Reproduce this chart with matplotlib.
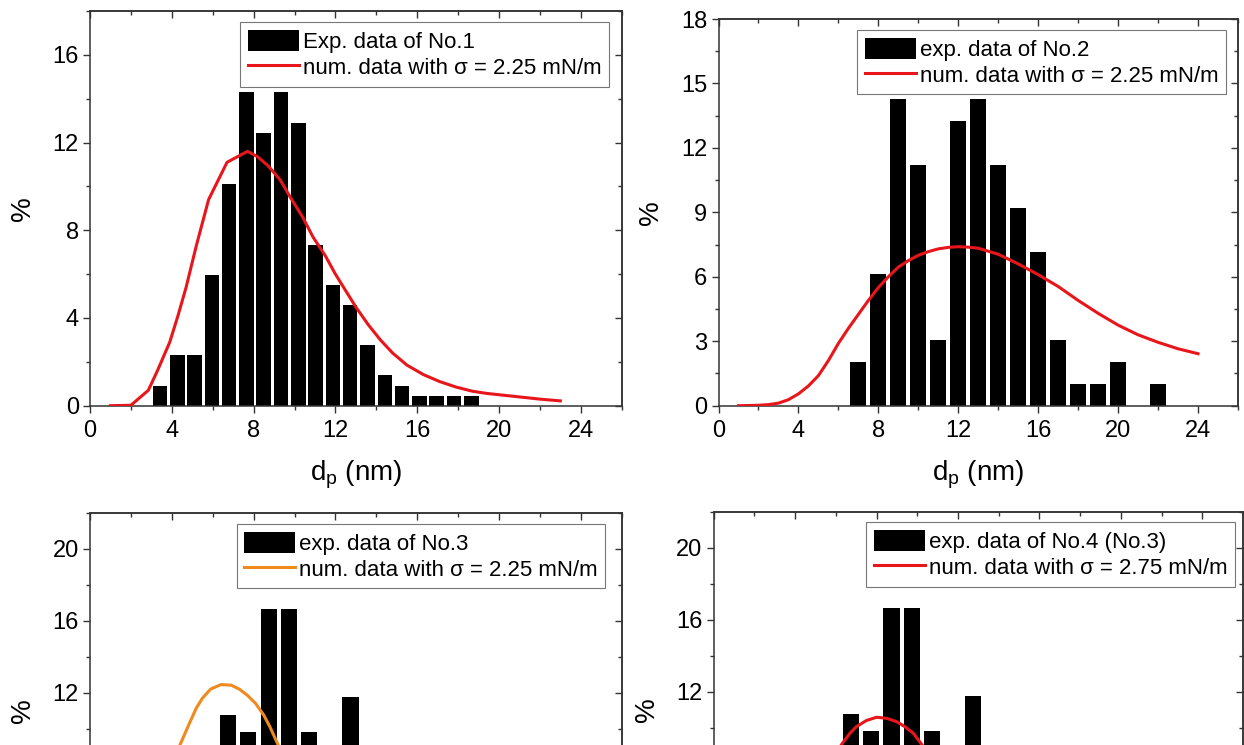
import matplotlib
matplotlib.use('Agg')
import matplotlib.pyplot as plt
from matplotlib.ticker import MultipleLocator, FuncFormatter

plt.rcParams['font.family'] = ['Liberation Sans', 'DejaVu Sans']
plt.rcParams['mathtext.fontset'] = 'custom'
plt.rcParams['mathtext.rm'] = 'Liberation Sans'
plt.rcParams['mathtext.it'] = 'Liberation Sans'

# 数据：No.1 粒径分布（%）
d1_bins = [3.42, 4.27, 5.11, 5.96, 6.80, 7.65, 8.50, 9.34, 10.19, 11.03,
           11.88, 12.72, 13.57, 14.42, 15.26, 16.11, 16.95, 17.80, 18.64]
d1_pct = [0.9, 2.3, 2.3, 5.95, 10.1, 14.3, 12.45, 14.3, 12.9, 7.35,
          5.5, 4.6, 2.75, 1.38, 0.92, 0.46, 0.46, 0.46, 0.46]
c1_x = [1.0, 2.0, 2.85, 3.3, 3.9, 4.3, 4.7, 5.2, 5.8, 6.7, 7.7, 8.2, 8.7, 9.3, 9.8,
        10.4, 10.9, 11.5, 12.0, 12.5, 13.0, 13.6, 14.2, 14.8, 15.5, 16.3, 17.1,
        17.9, 18.7, 19.4, 20.0, 21.0, 22.0, 23.0]
c1_y = [0.0, 0.02, 0.7, 1.6, 2.9, 4.1, 5.4, 7.3, 9.4, 11.1, 11.6, 11.35, 10.95, 10.3, 9.5,
        8.6, 7.7, 6.85, 6.0, 5.25, 4.5, 3.7, 3.0, 2.4, 1.85, 1.42, 1.1,
        0.85, 0.66, 0.56, 0.5, 0.4, 0.3, 0.22]

# No.2
d2_bins = [7, 8, 9, 10, 11, 12, 13, 14, 15, 16, 17, 18, 19, 20, 22]
d2_pct = [2.04, 6.12, 14.29, 11.22, 3.06, 13.27, 14.29, 11.22, 9.18, 7.14,
          3.06, 1.02, 1.02, 2.04, 1.02]
c2_x = [1.0, 2.0, 2.5, 3.0, 3.5, 4.0, 4.5, 5.0, 5.5, 6.0, 6.5, 7.0, 7.5, 8.0, 8.5, 9.0,
        9.5, 10.0, 10.5, 11.0, 11.5, 12.0, 12.5, 13.0, 14.0, 15.0, 16.0, 17.0,
        18.0, 19.0, 20.0, 21.0, 22.0, 23.0, 24.0]
c2_y = [0.0, 0.02, 0.05, 0.12, 0.28, 0.55, 0.92, 1.4, 2.1, 2.9, 3.6, 4.25, 4.9, 5.5, 6.0, 6.45,
        6.75, 7.0, 7.17, 7.3, 7.37, 7.4, 7.38, 7.33, 7.05, 6.6, 6.1, 5.55,
        4.9, 4.3, 3.75, 3.3, 2.95, 2.65, 2.42]

# No.3 / No.4（下半部分被裁掉，只能看到上部）
d3_bins = [6.75, 7.74, 8.74, 9.74, 10.72, 11.72, 12.73]
d3_pct = [10.78, 9.80, 16.67, 16.67, 9.80, 5.9, 11.76]
c3_x = [2.0, 3.0, 3.8, 4.4, 4.9, 5.2, 5.5, 5.9, 6.4, 6.9, 7.3, 7.7, 8.1, 8.5, 8.8, 9.2,
        10.0, 11.0, 12.0, 14.0, 17.0]
c3_y = [0.3, 2.5, 6.5, 9.1, 10.4, 11.15, 11.7, 12.2, 12.45, 12.42, 12.2, 11.85, 11.4, 10.75, 10.1, 9.1,
        6.9, 4.3, 2.5, 0.8, 0.2]
c4_x = [2.0, 3.0, 4.0, 5.0, 5.7, 6.3, 6.7, 7.0, 7.5, 8.0, 8.5, 9.0, 9.4, 9.8, 10.2,
        11.0, 12.0, 14.0, 17.0, 20.0]
c4_y = [0.1, 1.0, 3.2, 6.2, 8.0, 9.1, 9.7, 10.05, 10.4, 10.58, 10.52, 10.33, 10.05, 9.7, 9.1,
        7.9, 6.2, 3.4, 1.2, 0.4]

FS_TICK = 17
FS_LEG = 16
FS_LAB = 20


def style_axes(ax, ymax, ystep, show_x):
    ax.set_xlim(0, 26)
    ax.set_ylim(0, ymax)
    ax.xaxis.set_major_locator(MultipleLocator(4))
    ax.xaxis.set_minor_locator(MultipleLocator(2))
    ax.yaxis.set_major_locator(MultipleLocator(ystep))
    ax.yaxis.set_minor_locator(MultipleLocator(ystep / 2))
    ax.tick_params(which='both', direction='out', top=False, right=False,
                   labelsize=FS_TICK, width=1, color='#333333', pad=3)
    ax.tick_params(which='major', length=5)
    ax.tick_params(which='minor', length=3)
    ax.tick_params(axis='x', pad=5, labelbottom=show_x)
    if not show_x:
        # 下排图被裁切，只保留画面内能看到的刻度标签
        ax.yaxis.set_major_formatter(FuncFormatter(lambda v, p: f'{v:.0f}' if v >= 10 else ''))
    for s in ax.spines.values():
        s.set_linewidth(1.1)
        s.set_color('#333333')
    # 上、右两边的刻度朝内
    top = ax.secondary_xaxis('top')
    top.xaxis.set_major_locator(MultipleLocator(4))
    top.xaxis.set_minor_locator(MultipleLocator(2))
    top.tick_params(which='both', direction='in', labeltop=False, width=1, color='#333333')
    top.tick_params(which='major', length=5)
    top.tick_params(which='minor', length=3)
    top.spines['top'].set_linewidth(1.1)
    top.spines['top'].set_color('#333333')
    right = ax.secondary_yaxis('right')
    right.yaxis.set_major_locator(MultipleLocator(ystep))
    right.yaxis.set_minor_locator(MultipleLocator(ystep / 2))
    right.tick_params(which='both', direction='in', labelright=False, width=1, color='#333333')
    right.tick_params(which='major', length=5)
    right.tick_params(which='minor', length=3)
    right.spines['right'].set_linewidth(1.1)
    right.spines['right'].set_color('#333333')
    if show_x:
        ax.set_xlabel(r'd$_{\rm p}$ (nm)', fontsize=FS_LAB, labelpad=12)
    ax.set_ylabel('%', fontsize=FS_LAB, labelpad=12)


def panel(ax, bins, pct, width, cx, cy, color, exp_label, num_label, anchor, ymax, ystep, show_x=True):
    bars = ax.bar(bins, pct, width=width, color='black', label=exp_label, zorder=2)
    line, = ax.plot(cx, cy, color=color, lw=2.2, label=num_label, zorder=3)
    style_axes(ax, ymax, ystep, show_x)
    leg = ax.legend(handles=[bars, line], loc='upper right', bbox_to_anchor=anchor,
                    borderaxespad=0, fontsize=FS_LEG, frameon=True, fancybox=False,
                    edgecolor='#777777', framealpha=1, handlelength=2.3,
                    handleheight=1.1, handletextpad=0.15, labelspacing=0.12,
                    borderpad=0.35)
    leg.get_frame().set_linewidth(0.8)


fig = plt.figure(figsize=(12.44, 7.45), dpi=100)
W, H = 1244, 745

def add_ax(left, right, top, bottom):
    return fig.add_axes([left / W, 1 - bottom / H, (right - left) / W, (bottom - top) / H])

ax1 = add_ax(90, 621.7, 11, 405.7)
ax2 = add_ax(718.5, 1238, 19, 405.7)
ax3 = add_ax(90, 621.7, 512.7, 908.7)
ax4 = add_ax(713.7, 1243, 511.7, 907.7)

panel(ax1, d1_bins, d1_pct, 0.72, c1_x, c1_y, '#e8161b', 'Exp. data of No.1',
      'num. data with σ = 2.25 mN/m', (0.976, 0.972), 18, 4)
panel(ax2, d2_bins, d2_pct, 0.8, c2_x, c2_y, '#e8161b', 'exp. data of No.2',
      'num. data with σ = 2.25 mN/m', (0.977, 0.972), 18, 3)
panel(ax3, d3_bins, d3_pct, 0.8, c3_x, c3_y, '#f0891e', 'exp. data of No.3',
      'num. data with σ = 2.25 mN/m', (0.969, 0.972), 22, 4, show_x=False)
panel(ax4, d3_bins, d3_pct, 0.8, c4_x, c4_y, '#e8161b', 'exp. data of No.4 (No.3)',
      'num. data with σ = 2.75 mN/m', (0.985, 0.974), 22, 4, show_x=False)

fig.savefig('out.png', dpi=100)
plt.close(fig)
